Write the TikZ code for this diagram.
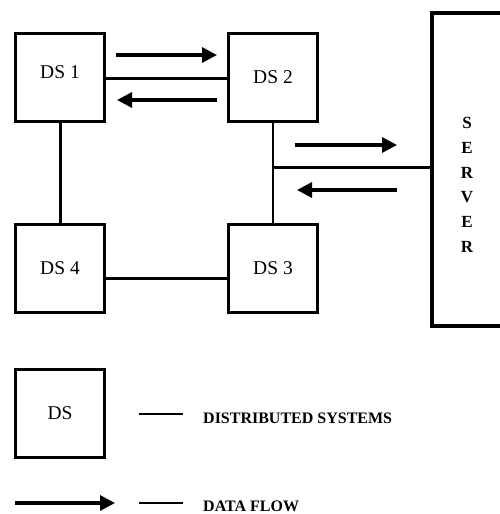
\documentclass[tikz,border=0pt]{standalone}
\usepackage{fontspec}
\setmainfont{Liberation Serif}
\usetikzlibrary{arrows.meta}
\begin{document}
\begin{tikzpicture}[x=1pt,y=-1pt,
  dsbox/.style={draw,line width=3.5pt,minimum width=89pt,minimum height=88pt,inner sep=0pt,font=\fontsize{19.5}{22}\selectfont},
  thickline/.style={line width=3pt},
  thinline/.style={line width=1.4pt},
  flow/.style={line width=3.2pt,-{Triangle[length=15pt,width=15pt]}},
  lbl/.style={font=\bfseries\fontsize{16}{18}\selectfont,inner sep=0pt,anchor=west}]
\clip (0,0) rectangle (500,514);
\fill[white] (0,0) rectangle (500,514);
% boxes
\node[dsbox] (ds1) at (60,77.5) {};
\node at (60,72) {\fontsize{19.5}{22}\selectfont DS 1};
\node[dsbox] (ds2) at (273,77.5) {DS 2};
\node[dsbox] (ds4) at (60,268.5) {DS 4};
\node[dsbox] (ds3) at (273,268.5) {DS 3};
% server
\node[draw,line width=4pt,minimum width=86pt,minimum height=313pt,inner sep=0pt,anchor=north west] (srv) at (430,11) {};
\node[font=\bfseries\fontsize{17}{18}\selectfont,align=center,inner sep=0pt] (srvtxt) at (467,185) {S\\[6.7pt]E\\[6.7pt]R\\[6.7pt]V\\[6.7pt]E\\[6.7pt]R};
% connectors
\draw[thickline] (ds1.east |- 0,78) -- (ds2.west |- 0,78);
\draw[thickline] (ds1.south) -- (ds4.north);
\draw[thickline] (ds4.east |- 0,278) -- (ds3.west |- 0,278);
\draw[thinline] (ds2.south) -- (ds3.north);
\coordinate (j) at (273,167);
\draw[thickline] (j) -- (srv.west |- j);
% data flow arrows
\coordinate (a1s) at (116,55); \coordinate (a1e) at (217,55);
\coordinate (a2s) at (217,100); \coordinate (a2e) at (117,100);
\coordinate (a3s) at (295,145); \coordinate (a3e) at (397,145);
\coordinate (a4s) at (397,190); \coordinate (a4e) at (297,190);
\draw[flow] (a1s) -- (a1e);
\draw[flow] (a2s) -- (a2e);
\draw[flow] (a3s) -- (a3e);
\draw[flow] (a4s) -- (a4e);
% legend
\node[dsbox] (lds) at (60,413.5) {DS};
\coordinate (l1a) at (139,414); \coordinate (l1b) at (183,414);
\draw[thinline] (l1a) -- (l1b);
\node[lbl] (l1t) at (203,418) {DISTRIBUTED SYSTEMS};
\coordinate (l2s) at (15,503); \coordinate (l2e) at (115,503);
\draw[flow] (l2s) -- (l2e);
\coordinate (l2a) at (139,503); \coordinate (l2b) at (183,503);
\draw[thinline] (l2a) -- (l2b);
\node[lbl] (l2t) at (203,506) {DATA FLOW};
\end{tikzpicture}
\end{document}
